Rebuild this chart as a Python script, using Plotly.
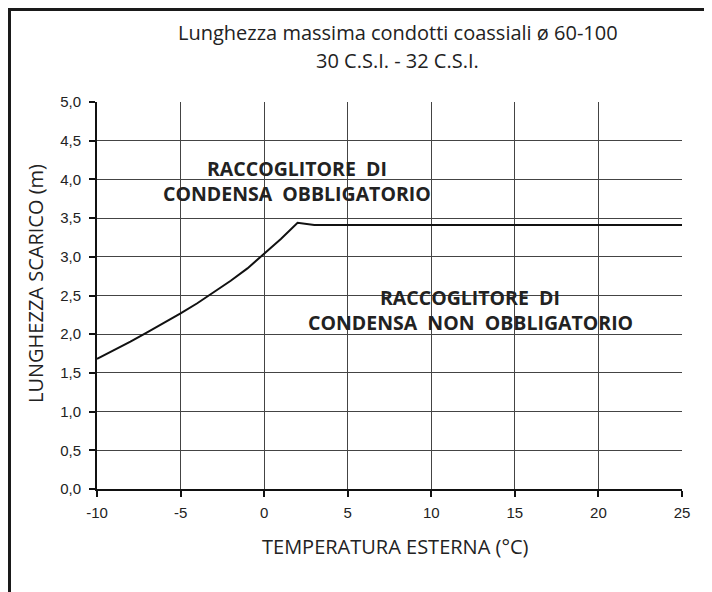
import plotly.graph_objects as go

# ---- data ----
temperatura = [-10, -9, -8, -7, -6, -5, -4, -3, -2, -1, 0, 1, 2, 3, 25]
lunghezza = [1.68, 1.79, 1.905, 2.025, 2.145, 2.27, 2.40, 2.54, 2.69, 2.85, 3.04, 3.23, 3.44, 3.41, 3.41]
x_ticks = [-10, -5, 0, 5, 10, 15, 20, 25]
x_ticktext = ["-10", "-5", "0", "5", "10", "15", "20", "25"]
y_ticks = [0, 0.5, 1, 1.5, 2, 2.5, 3, 3.5, 4, 4.5, 5]

title_lines = ["Lunghezza massima condotti coassiali ø 60-100", "30 C.S.I. - 32 C.S.I."]
label_obbl = ["RACCOGLITORE\u00a0 DI", "CONDENSA\u00a0 OBBLIGATORIO"]
label_non = ["RACCOGLITORE\u00a0 DI", "CONDENSA\u00a0 NON\u00a0 OBBLIGATORIO"]
x_title = "TEMPERATURA ESTERNA (°C)"
y_title = "LUNGHEZZA SCARICO (m)"

# ---- layout geometry (reference pixels; page has an 8px body margin) ----
W, H = 712, 592
OFF = 8
L, R, T, B = 97, 682, 102, 489


def px(x):
    return (x - L) / (R - L)


def py(y):
    return (B - y) / (B - T)


TITLE_FONT = "Open Sans, Noto Sans, sans-serif"
TICK_FONT = "Liberation Sans, Arial, sans-serif"
TXT = "#222222"

fig = go.Figure()
fig.add_trace(go.Scatter(
    x=temperatura, y=lunghezza, mode="lines",
    line=dict(color="#111111", width=2), hoverinfo="skip", showlegend=False,
))

annotations = []
for txt, yy in zip(title_lines, [33, 60]):
    annotations.append(dict(text=txt, x=px(398), y=py(yy), xref="paper", yref="paper",
                            showarrow=False, xanchor="center", yanchor="middle",
                            font=dict(family=TITLE_FONT, size=20, color=TXT)))
for txt, yy in zip(label_obbl, [168, 193]):
    annotations.append(dict(text="<b>" + txt + "</b>", x=px(297), y=py(yy), xref="paper", yref="paper",
                            showarrow=False, xanchor="center", yanchor="middle",
                            font=dict(family=TITLE_FONT, size=19.5, color=TXT)))
for txt, yy in zip(label_non, [297, 322]):
    annotations.append(dict(text="<b>" + txt + "</b>", x=px(470), y=py(yy), xref="paper", yref="paper",
                            showarrow=False, xanchor="center", yanchor="middle",
                            font=dict(family=TITLE_FONT, size=19.5, color=TXT)))
annotations.append(dict(text=x_title, x=px(395), y=py(546), xref="paper", yref="paper",
                        showarrow=False, xanchor="center", yanchor="middle",
                        font=dict(family=TITLE_FONT, size=20, color=TXT)))
annotations.append(dict(text=y_title, x=px(35), y=py(284), xref="paper", yref="paper",
                        showarrow=False, xanchor="center", yanchor="middle", textangle=-90,
                        font=dict(family=TITLE_FONT, size=20, color=TXT)))

shapes = [dict(type="rect", xref="paper", yref="paper",
               x0=px(9.5), x1=px(740), y0=py(620), y1=py(9.5),
               line=dict(color="#1a1a1a", width=3), fillcolor="rgba(0,0,0,0)")]

fig.update_layout(
    width=W - OFF, height=H - OFF,
    margin=dict(l=L - OFF, r=W - R, t=T - OFF, b=H - B, pad=0),
    paper_bgcolor="white", plot_bgcolor="white",
    separators=",.",
    annotations=annotations,
    shapes=shapes,
    showlegend=False,
)
fig.update_xaxes(
    range=[-10, 25], tickvals=x_ticks, ticktext=x_ticktext,
    showgrid=True, gridcolor="#444444", gridwidth=1,
    zeroline=False, showline=True, linecolor="#111111", linewidth=2,
    ticks="outside", ticklen=6, tickwidth=1.5, tickcolor="#111111",
    ticklabelstandoff=3,
    tickfont=dict(family=TICK_FONT, size=15, color=TXT),
)
fig.update_yaxes(
    range=[0, 5], tickvals=y_ticks, tickformat=".1f",
    showgrid=True, gridcolor="#444444", gridwidth=1,
    zeroline=False, showline=True, linecolor="#111111", linewidth=2,
    ticks="outside", ticklen=6, tickwidth=1.5, tickcolor="#111111",
    ticklabelstandoff=5,
    tickfont=dict(family=TICK_FONT, size=15, color=TXT),
)

fig.write_html("out.html")
